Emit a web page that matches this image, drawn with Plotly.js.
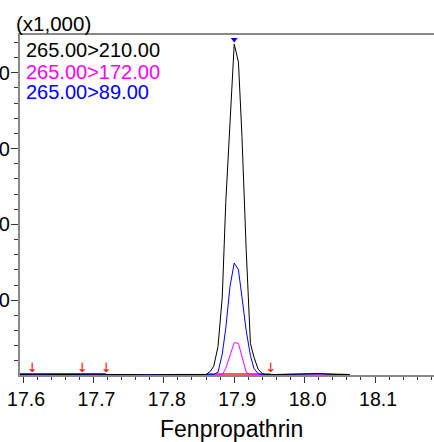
<!DOCTYPE html>
<html>
<head>
<meta charset="utf-8">
<script src="https://cdn.plot.ly/plotly-3.0.1.min.js"></script>
<style>html,body{margin:0;padding:0;background:#fff;}#chart{width:434px;height:442px;}</style>
</head>
<body>
<div id="chart"></div>
<script>
// Retention time (min)
const time = [17.590, 17.620, 17.660, 17.700, 17.740, 17.780, 17.820, 17.845,
  17.860, 17.866, 17.871, 17.877, 17.883, 17.888, 17.894, 17.900, 17.906, 17.911,
  17.917, 17.923, 17.928, 17.934, 17.940, 17.945, 17.960, 17.990, 18.020, 18.045, 18.064];
// Intensity (x1,000)
const mz210 = [0.02, 0.015, 0.02, 0.015, 0.02, 0.015, 0.02, 0.02,
  0.02, 0.06, 0.13, 0.39, 1.04, 2.29, 3.37, 4.38, 4.14, 3.16,
  1.67, 0.43, 0.25, 0.09, 0.03, 0.02, 0.02, 0.025, 0.03, 0.02, 0.02];
const mz172 = [0.015, 0.015, 0.015, 0.015, 0.015, 0.015, 0.015, 0.015,
  0.015, 0.015, 0.015, 0.015, 0.015, 0.10, 0.28, 0.44, 0.43, 0.24,
  0.05, 0.015, 0.015, 0.015, 0.015, 0.015, 0.015, 0.015, 0.015, 0.015, 0.015];
const mz89 = [0.02, 0.015, 0.02, 0.015, 0.02, 0.015, 0.02, 0.02,
  0.015, 0.015, 0.02, 0.05, 0.29, 0.63, 1.18, 1.49, 1.40, 1.04,
  0.60, 0.27, 0.10, 0.03, 0.015, 0.015, 0.02, 0.025, 0.03, 0.02, 0.02];
const labels = ["265.00>210.00", "265.00>172.00", "265.00>89.00"];
const colors = ["#000000", "#ff00ff", "#0000ff"];
const xTicks = [17.6, 17.7, 17.8, 17.9, 18.0, 18.1];
const xTickText = ["17.6", "17.7", "17.8", "17.9", "18.0", "18.1"];
const yTicks = [1, 2, 3, 4];
const yTickText = ["1.0", "2.0", "3.0", "4.0"];
// integration baselines
const base1X = [17.590, 17.718];
const base2X = [17.862, 17.952];
const baseY = [0.02, 0.02];
// peak start/end markers
const markX = [17.613, 17.684, 17.718, 17.952];
const markY = [0.10, 0.10, 0.10, 0.10];
// apex marker
const apexX = [17.900];
const apexY = [4.44];

const traces = [
  {x: base1X, y: baseY, mode: 'lines', line: {color: '#d0102a', width: 3}, hoverinfo: 'skip'},
  {x: base2X, y: baseY, mode: 'lines', line: {color: '#ff5a5a', width: 3}, hoverinfo: 'skip'},
  {x: time, y: mz172, mode: 'lines', name: labels[1], line: {color: colors[1], width: 1}},
  {x: time, y: mz89, mode: 'lines', name: labels[2], line: {color: colors[2], width: 1}},
  {x: time, y: mz210, mode: 'lines', name: labels[0], line: {color: colors[0], width: 1}},
  {x: markX, y: markY, mode: 'text', text: markX.map(() => '↓'),
   textfont: {color: '#ff0000', size: 13, family: 'DejaVu Sans'}, hoverinfo: 'skip'},
  {x: apexX, y: apexY, mode: 'markers', marker: {symbol: 'triangle-down', size: 6, color: '#0000cc'}}
];

const font = 'Liberation Sans, Arial, sans-serif';
const layout = {
  width: 434, height: 442,
  margin: {l: 20, r: 0, t: 35, b: 67},
  paper_bgcolor: '#fff', plot_bgcolor: '#fff',
  showlegend: false,
  font: {family: font, size: 20, color: '#000'},
  xaxis: {
    range: [17.5957, 18.1838], showgrid: false, zeroline: false,
    showline: true, linecolor: '#888', linewidth: 2, mirror: true,
    ticks: 'outside', ticklen: 6, tickcolor: '#333', tickwidth: 1,
    tickvals: xTicks, ticktext: xTickText, ticklabelshift: 3,
    tickfont: {family: font, size: 19.5, color: '#000'},
    minor: {dtick: 0.02, tick0: 17.6, ticklen: 3, tickcolor: '#333', ticks: 'outside'}
  },
  yaxis: {
    range: [0.013, 4.498], showgrid: false, zeroline: false,
    showline: true, linecolor: '#888', linewidth: 2,
    ticks: 'outside', ticklen: 7, tickcolor: '#333', tickwidth: 1,
    tickvals: yTicks, ticktext: yTickText, ticklabelstandoff: -3,
    tickfont: {family: font, size: 20, color: '#000'},
    minor: {dtick: 0.2, tick0: 0, ticklen: 4, tickcolor: '#333', ticks: 'outside'}
  },
  annotations: [
    {text: '(x1,000)', xref: 'paper', yref: 'paper', x: -0.014, y: 1.0, xanchor: 'left', yanchor: 'bottom',
     showarrow: false, font: {family: font, size: 20.5, color: '#000'}, yshift: -2},
    {text: labels[0], xref: 'paper', yref: 'paper', x: 0.01, y: 0.993, xanchor: 'left', yanchor: 'top',
     showarrow: false, font: {family: font, size: 20, color: colors[0]}},
    {text: labels[1], xref: 'paper', yref: 'paper', x: 0.01, y: 0.930, xanchor: 'left', yanchor: 'top',
     showarrow: false, font: {family: font, size: 20, color: colors[1]}},
    {text: labels[2], xref: 'paper', yref: 'paper', x: 0.01, y: 0.871, xanchor: 'left', yanchor: 'top',
     showarrow: false, font: {family: font, size: 20, color: colors[2]}},
    {text: 'Fenpropathrin', xref: 'paper', yref: 'paper', x: 0.512, y: -0.159, xanchor: 'center', yanchor: 'middle',
     showarrow: false, font: {family: font, size: 23, color: '#000'}}
  ]
};
Plotly.newPlot('chart', traces, layout, {displayModeBar: false, staticPlot: true});
</script>
</body>
</html>
